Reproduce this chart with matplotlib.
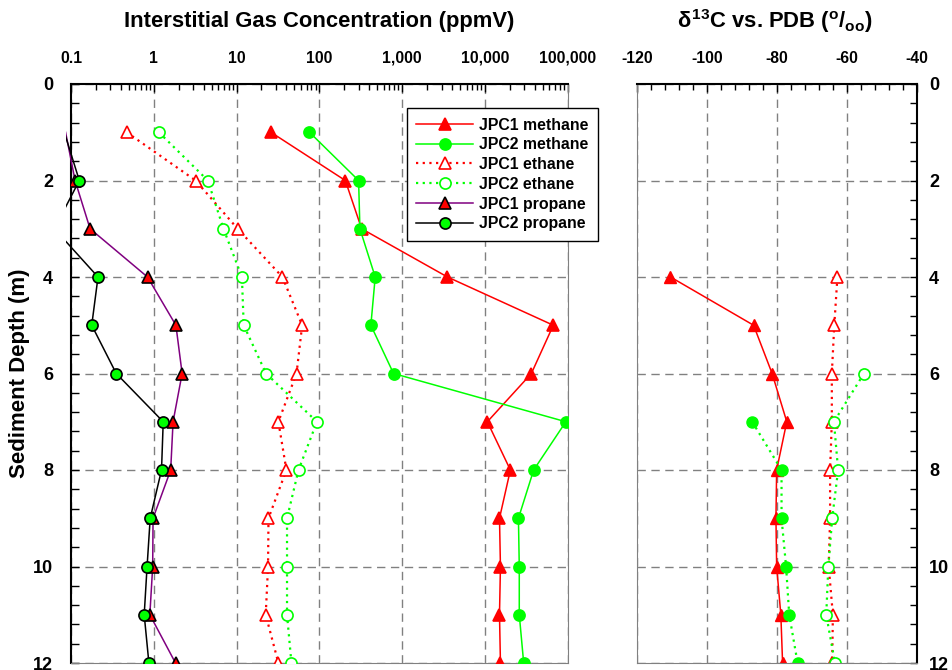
import numpy as np
import matplotlib
matplotlib.use('Agg')
import matplotlib.pyplot as plt
from matplotlib.ticker import FixedLocator, MultipleLocator, LogLocator, NullFormatter
from matplotlib.patches import Rectangle
from matplotlib.lines import Line2D

plt.rcParams['font.family'] = ['Liberation Sans', 'DejaVu Sans']
plt.rcParams['font.weight'] = 'bold'
plt.rcParams['axes.unicode_minus'] = False
plt.rcParams['mathtext.fontset'] = 'custom'
plt.rcParams['mathtext.rm'] = 'Liberation Sans:bold'
plt.rcParams['mathtext.it'] = 'Liberation Sans:bold'
plt.rcParams['mathtext.bf'] = 'Liberation Sans:bold'

# Dades: profunditat (m) i concentracio de gas (ppmV)
depth = [1, 2, 3, 4, 5, 6, 7, 8, 9, 10, 11, 12]
jpc1_methane = [26, 206, 324, 3530, 67000, 36400, 10700, 20300, 15000, 15400, 15000, 15400]
jpc2_methane = [76, 298, 309, 473, 419, 787, 95000, 38800, 25400, 26000, 26000, 29400]
jpc1_ethane = [0.47, 3.2, 10.3, 35.8, 62, 53, 32, 40, 24.3, 24, 22.5, 32]
jpc2_ethane = [1.15, 4.5, 6.95, 11.6, 12.2, 22.7, 93.5, 56, 40.7, 40.7, 40.7, 46]
jpc1_propane = [0.086, 0.112, 0.17, 0.84, 1.85, 2.2, 1.71, 1.6, 0.98, 0.97, 0.896, 1.83]
jpc2_propane = [0.083, 0.126, 0.063, 0.212, 0.178, 0.352, 1.30, 1.24, 0.905, 0.83, 0.766, 0.873]

conc_ticks = [0.1, 1, 10, 100, 1000, 10000, 100000]
conc_labels = ['0.1', '1', '10', '100', '1,000', '10,000', '100,000']

# Dades isotopiques (delta 13C vs PDB)
d13c_jpc1_methane_depth = [4, 5, 6, 7, 8, 9, 10, 11, 12]
d13c_jpc1_methane = [-110.5, -86.7, -81.4, -77.2, -80.1, -80.3, -80.1, -78.9, -78.4]
d13c_jpc1_ethane_depth = [4, 5, 6, 7, 8, 9, 10, 11, 12]
d13c_jpc1_ethane = [-62.7, -63.6, -64.3, -64.3, -64.8, -64.8, -65.2, -64.0, -64.2]
d13c_jpc2_methane_depth = [7, 8, 9, 10, 11, 12]
d13c_jpc2_methane = [-87.1, -78.7, -78.7, -77.4, -76.5, -74.1]
d13c_jpc2_ethane_depth = [6, 7, 8, 9, 10, 11, 12]
d13c_jpc2_ethane = [-55.1, -63.7, -62.5, -64.2, -65.3, -65.9, -63.4]

d13c_ticks = [-120, -100, -80, -60, -40]
depth_ticks = [0, 2, 4, 6, 8, 10, 12]

RED = '#FF0000'
GREEN = '#00FF00'
PURPLE = '#800080'
GREY = '#808080'
DOT = (0, (1, 2))
XMIN = 0.1

fig = plt.figure(figsize=(9.53, 6.70), dpi=100)
ax = fig.add_axes([71 / 953, 1 - 663 / 670, 496.7 / 953, 579 / 670])
ax2 = fig.add_axes([637.3 / 953, 1 - 663 / 670, 279.4 / 953, 579 / 670])

# estils de cada serie
styles = [
    (jpc1_methane, 'JPC1 methane', dict(color=RED, ls='-', lw=1.1, marker='^', ms=9, mfc=RED, mec=RED)),
    (jpc2_methane, 'JPC2 methane', dict(color=GREEN, ls='-', lw=1.1, marker='o', ms=8, mfc=GREEN, mec=GREEN)),
    (jpc1_ethane, 'JPC1 ethane', dict(color=RED, ls=DOT, lw=1.6, marker='^', ms=9, mfc='white', mec=RED)),
    (jpc2_ethane, 'JPC2 ethane', dict(color=GREEN, ls=DOT, lw=1.6, marker='o', ms=8, mfc='white', mec=GREEN)),
    (jpc1_propane, 'JPC1 propane', dict(color=PURPLE, ls='-', lw=1.1, marker='^', ms=9, mfc=RED, mec='black')),
    (jpc2_propane, 'JPC2 propane', dict(color='black', ls='-', lw=1.1, marker='o', ms=8, mfc=GREEN, mec='black')),
]

clip = Rectangle((-0.011, 0), 1.011, 1, transform=ax.transAxes, fill=False)
handles = []
for vals, name, st in styles:
    vals = np.array(vals, float)
    ln, = ax.plot(vals, depth, color=st['color'], ls=st['ls'], lw=st['lw'], zorder=3)
    ln.set_clip_path(clip)
    shown = np.where(vals >= XMIN, vals, np.nan)  # Excel no dibuixa marcadors fora de l'eix
    ax.plot(shown, depth, ls='none', marker=st['marker'], ms=st['ms'], mfc=st['mfc'],
            mec=st['mec'], mew=1.2, zorder=4)
    handles.append(Line2D([], [], mew=1.2, label=name, **st))

ax.set_xscale('log')
ax.set_xlim(0.1, 100000)
ax.set_ylim(12, 0)
ax.xaxis.set_major_locator(FixedLocator(conc_ticks))
ax.set_xticklabels(conc_labels)
ax.xaxis.set_minor_locator(LogLocator(base=10, subs=range(2, 10)))
ax.xaxis.set_minor_formatter(NullFormatter())
ax.xaxis.tick_top()
ax.yaxis.set_major_locator(FixedLocator(depth_ticks))
ax.yaxis.set_minor_locator(MultipleLocator(0.4))
ax.tick_params(axis='x', which='both', direction='in', top=True, bottom=False,
               labeltop=True, labelbottom=False, labelsize=11.3, pad=13)
ax.tick_params(axis='x', which='major', length=6, width=1)
ax.tick_params(axis='x', which='minor', length=4, width=1)
ax.tick_params(axis='y', which='both', direction='in', left=True, right=False,
               labelsize=13, pad=13, width=1)
ax.tick_params(axis='y', which='major', length=6)
ax.tick_params(axis='y', which='minor', length=6)
ax.grid(True, which='major', color=GREY, ls=(0, (6, 4)), lw=1)
ax.spines['top'].set_linewidth(1.5)
ax.spines['left'].set_linewidth(1.5)
ax.spines['right'].set_color(GREY)
ax.spines['bottom'].set_color(GREY)
ax.set_axisbelow(True)

leg = ax.legend(handles=handles, loc='upper left', bbox_to_anchor=(407 / 953, 1 - 108 / 670),
                bbox_transform=fig.transFigure, borderaxespad=0, fancybox=False,
                edgecolor='black', framealpha=1, fontsize=11.4, handlelength=3.6,
                handletextpad=0.35, labelspacing=0.3, borderpad=0.6)
leg.get_frame().set_linewidth(1)

# Panell dret: isotops
ax2.plot(d13c_jpc1_methane, d13c_jpc1_methane_depth, color=RED, ls='-', lw=1.1,
         marker='^', ms=9, mfc=RED, mec=RED)
ax2.plot(d13c_jpc1_ethane, d13c_jpc1_ethane_depth, color=RED, ls=DOT, lw=1.6,
         marker='^', ms=9, mfc='white', mec=RED, mew=1.2)
ax2.plot(d13c_jpc2_methane, d13c_jpc2_methane_depth, color=GREEN, ls=DOT, lw=1.6,
         marker='o', ms=8, mfc=GREEN, mec=GREEN)
ax2.plot(d13c_jpc2_ethane, d13c_jpc2_ethane_depth, color=GREEN, ls=DOT, lw=1.6,
         marker='o', ms=8, mfc='white', mec=GREEN, mew=1.2)

ax2.set_xlim(-120, -40)
ax2.set_ylim(12, 0)
ax2.xaxis.set_major_locator(FixedLocator(d13c_ticks))
ax2.xaxis.set_minor_locator(MultipleLocator(4))
ax2.xaxis.tick_top()
ax2.yaxis.tick_right()
ax2.yaxis.set_major_locator(FixedLocator(depth_ticks))
ax2.yaxis.set_minor_locator(MultipleLocator(0.4))
ax2.tick_params(axis='x', which='both', direction='in', top=True, bottom=False,
                labeltop=True, labelbottom=False, labelsize=11.3, pad=13, width=1)
ax2.tick_params(axis='x', which='major', length=6)
ax2.tick_params(axis='x', which='minor', length=4)
ax2.tick_params(axis='y', which='both', direction='in', right=True, left=False,
                labelright=True, labelleft=False, labelsize=13, pad=9, width=1, length=5)
ax2.grid(True, which='major', color=GREY, ls=(0, (6, 4)), lw=1)
ax2.spines['top'].set_linewidth(1.5)
ax2.spines['right'].set_linewidth(1.5)
ax2.spines['left'].set_color(GREY)
ax2.spines['bottom'].set_color(GREY)
ax2.set_axisbelow(True)

fig.text(319 / 953, 1 - 21 / 670, 'Interstitial Gas Concentration (ppmV)', ha='center',
         va='center', fontsize=15.8, fontweight='bold')
fig.text(775 / 953, 1 - 21 / 670, r'$\delta^{13}$C vs. PDB ($^{o}$/$_{oo}$)', ha='center',
         va='center', fontsize=15.8, fontweight='bold')
fig.text(20 / 953, 1 - 373.5 / 670, 'Sediment Depth (m)', rotation=90, ha='center',
         va='center', fontsize=16, fontweight='bold')

fig.savefig('out.png', dpi=100)
